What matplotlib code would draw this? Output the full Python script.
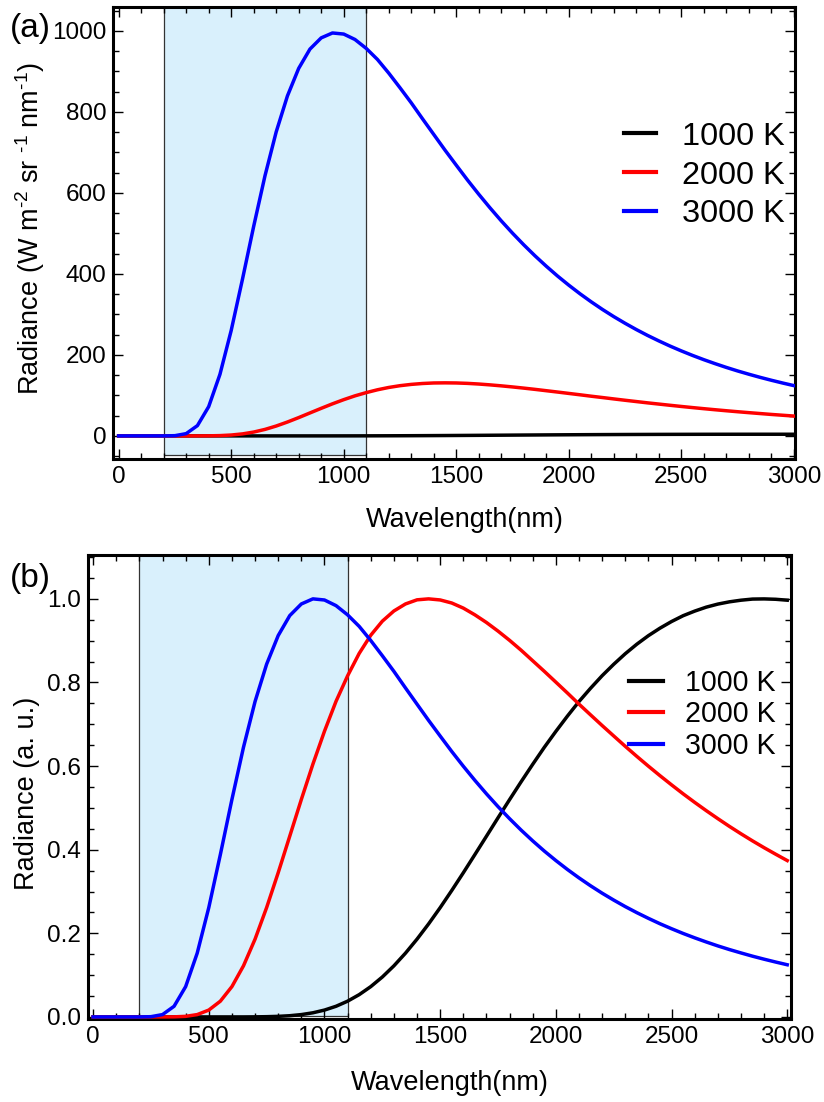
import matplotlib
matplotlib.use('Agg')
import matplotlib.pyplot as plt
from matplotlib.patches import Rectangle
from matplotlib.ticker import MultipleLocator, FormatStrFormatter

plt.rcParams['font.family'] = ['Liberation Sans', 'DejaVu Sans']
plt.rcParams['mathtext.fontset'] = 'custom'
plt.rcParams['mathtext.rm'] = 'Liberation Sans'
plt.rcParams['mathtext.default'] = 'regular'

# wavelength grid (nm)
wl = [0, 50, 100, 150, 200, 250, 300, 350, 400, 450, 500, 550, 600, 650, 700, 750, 800, 850, 900, 950,
      1000, 1050, 1100, 1150, 1200, 1250, 1300, 1350, 1400, 1450, 1500, 1550, 1600, 1650, 1700, 1750,
      1800, 1850, 1900, 1950, 2000, 2050, 2100, 2150, 2200, 2250, 2300, 2350, 2400, 2450, 2500, 2550,
      2600, 2650, 2700, 2750, 2800, 2850, 2900, 2950, 3000]

# (a) radiance, W m-2 sr-1 nm-1
rad_1000 = [0, 0, 0, 0, 0, 0, 0, 0, 0, 0, 0, 0, 0, 0, 0.001, 0.002, 0.006, 0.012, 0.023, 0.041,
            0.067, 0.10, 0.15, 0.22, 0.30, 0.39, 0.50, 0.62, 0.76, 0.91, 1.07, 1.24, 1.41, 1.59, 1.77, 1.95,
            2.13, 2.30, 2.48, 2.64, 2.80, 2.95, 3.09, 3.22, 3.34, 3.46, 3.56, 3.65, 3.74, 3.81, 3.87, 3.93,
            3.98, 4.02, 4.05, 4.07, 4.08, 4.09, 4.10, 4.09, 4.08]
rad_2000 = [0, 0, 0, 0, 0, 0, 0, 0.03, 0.18, 0.74, 2.15, 4.94, 9.5, 16.0, 24.4, 34.3, 45.2, 56.7, 68.1, 79.2,
            89.5, 98.9, 106.9, 113.9, 119.6, 124.0, 127.2, 129.4, 130.7, 131.0, 130.7, 129.7, 128.1, 126.0,
            123.6, 120.9, 118.0, 114.9, 111.6, 108.3, 104.9, 101.5, 98.0, 94.7, 91.3, 88.0, 84.8, 81.6, 78.6,
            75.6, 72.7, 69.9, 67.2, 64.6, 62.1, 59.7, 57.4, 55.2, 53.0, 51.0, 49.0]
rad_3000 = [0, 0, 0, 0, 0.01, 0.57, 5.6, 25.4, 72.2, 151.8, 260.2, 386.5, 517.6, 641.9, 750.7, 839.6, 907.6,
            955.2, 982.9, 995.0, 992.3, 978.9, 956.9, 929.5, 895.9, 859.7, 822.5, 783.1, 744.4, 705.7, 668.5,
            631.8, 596.7, 563.1, 531.0, 500.6, 471.8, 444.6, 419.0, 394.8, 372.2, 350.9, 330.9, 312.1, 294.5,
            278.1, 262.6, 248.1, 234.6, 221.8, 209.9, 198.7, 188.2, 178.4, 169.1, 160.4, 152.3, 144.6, 137.4,
            130.6, 124.2]

# (b) normalised radiance, a. u.
norm_1000 = [0, 0, 0, 0, 0, 0, 0, 0, 0, 0, 0, 0, 0, 0, 0.0002, 0.0006, 0.0014, 0.0029, 0.0056, 0.0099,
             0.0164, 0.0255, 0.0377, 0.0533, 0.0725, 0.0955, 0.1222, 0.1525, 0.1861, 0.2225, 0.2614, 0.3024,
             0.3448, 0.3883, 0.4322, 0.4763, 0.5198, 0.5626, 0.6043, 0.6448, 0.6830, 0.7196, 0.7544, 0.7862,
             0.8162, 0.8435, 0.8688, 0.8916, 0.9120, 0.9299, 0.9458, 0.9597, 0.9707, 0.9802, 0.9875, 0.9929,
             0.9968, 0.9995, 0.9999, 0.9990, 0.9968]
norm_2000 = [0, 0, 0, 0, 0, 0, 0, 0.0002, 0.0014, 0.0056, 0.0164, 0.0377, 0.0726, 0.1223, 0.1861, 0.2616,
             0.3450, 0.4325, 0.5202, 0.6047, 0.6834, 0.7550, 0.8160, 0.8695, 0.9130, 0.9466, 0.9710, 0.9878,
             0.9977, 1.0000, 0.9974, 0.9901, 0.9779, 0.9618, 0.9435, 0.9229, 0.9008, 0.8771, 0.8519, 0.8267,
             0.8008, 0.7748, 0.7482, 0.7225, 0.6970, 0.6721, 0.6473, 0.6232, 0.5998, 0.5771, 0.5551, 0.5337,
             0.5132, 0.4934, 0.4743, 0.4558, 0.4381, 0.4211, 0.4048, 0.3892, 0.3740]
norm_3000 = [0, 0, 0, 0, 0, 0.0006, 0.0056, 0.0255, 0.0725, 0.1526, 0.2615, 0.3884, 0.5202, 0.6451, 0.7545,
             0.8438, 0.9122, 0.9600, 0.9878, 1.0000, 0.9973, 0.9838, 0.9617, 0.9342, 0.9004, 0.8640, 0.8266,
             0.7870, 0.7481, 0.7093, 0.6719, 0.6350, 0.5997, 0.5659, 0.5337, 0.5031, 0.4742, 0.4468, 0.4211,
             0.3968, 0.3741, 0.3527, 0.3326, 0.3137, 0.2960, 0.2795, 0.2639, 0.2494, 0.2358, 0.2229, 0.2110,
             0.1997, 0.1892, 0.1793, 0.1699, 0.1612, 0.1531, 0.1453, 0.1381, 0.1313, 0.1248]

labels = ['1000 K', '2000 K', '3000 K']
colors = ['black', 'red', 'blue']
band = (200, 1100)  # shaded wavelength band

fig = plt.figure(figsize=(8.24, 11.02), dpi=100)
ax1 = fig.add_axes([0.1377, 0.5835, 0.8271, 0.4101])
ax2 = fig.add_axes([0.1068, 0.0753, 0.8528, 0.4211])


def style(ax, ymajor, yminor):
    for s in ax.spines.values():
        s.set_linewidth(2.2)
    ax.xaxis.set_major_locator(MultipleLocator(500))
    ax.xaxis.set_minor_locator(MultipleLocator(100))
    ax.yaxis.set_major_locator(MultipleLocator(ymajor))
    ax.yaxis.set_minor_locator(MultipleLocator(yminor))
    ax.tick_params(which='both', direction='in', top=True, right=True, labelsize=17.5)
    ax.tick_params(which='major', length=7, width=1, pad=5)
    ax.tick_params(which='minor', length=4, width=1)


# panel (a)
ax1.add_patch(Rectangle((band[0], -47), band[1] - band[0], 1200, facecolor='#d9f0fc',
                        edgecolor='#333333', lw=0.9, zorder=1))
for y, c, l in zip([rad_1000, rad_2000, rad_3000], colors, labels):
    ax1.plot(wl, y, color=c, lw=2.5, label=l, zorder=3)
ax1.set_xlim(-23, 3005)
ax1.set_ylim(-57, 1059)
style(ax1, 200, 50)
ax1.set_xlabel('Wavelength(nm)', fontsize=19.5, va='center')
ax1.xaxis.set_label_coords(0.516, -0.135)
ax1.set_ylabel('Radiance (W m$^{\u2010{2}}$ sr $^{\u20101}$ nm$^{\u20101}$)', fontsize=19.5, va='center')
ax1.yaxis.set_label_coords(-0.1225, 0.51)
leg = ax1.legend(loc='center right', bbox_to_anchor=(0.985, 0.627), frameon=False, fontsize=23.4,
                 handlelength=1.0, handletextpad=0.8, labelspacing=0.27, borderpad=0, borderaxespad=0)
for h in leg.get_lines():
    h.set_linewidth(3)
fig.text(10 / 824, 1 - 29 / 1102, '(a)', fontsize=24, va='center', ha='left')

# panel (b)
ax2.add_patch(Rectangle((band[0], 0.003), band[1] - band[0], 1.2, facecolor='#d9f0fc',
                        edgecolor='#333333', lw=0.9, zorder=1))
for y, c, l in zip([norm_1000, norm_2000, norm_3000], colors, labels):
    ax2.plot(wl, y, color=c, lw=2.5, label=l, zorder=3)
ax2.set_xlim(-22, 3015)
ax2.set_ylim(-0.005, 1.105)
style(ax2, 0.2, 0.05)
ax2.yaxis.set_major_formatter(FormatStrFormatter('%.1f'))
ax2.set_xlabel('Wavelength(nm)', fontsize=19.5, va='center')
ax2.xaxis.set_label_coords(0.515, -0.138)
ax2.set_ylabel('Radiance (a. u.)', fontsize=19.5, va='center')
ax2.yaxis.set_label_coords(-0.087, 0.487)
leg = ax2.legend(loc='center right', bbox_to_anchor=(0.978, 0.657), frameon=False, fontsize=20.6,
                 handlelength=1.2, handletextpad=0.75, labelspacing=0.12, borderpad=0, borderaxespad=0)
for h in leg.get_lines():
    h.set_linewidth(3)
fig.text(10 / 824, 1 - 578 / 1102, '(b)', fontsize=24, va='center', ha='left')

fig.savefig('out.png', dpi=100)
